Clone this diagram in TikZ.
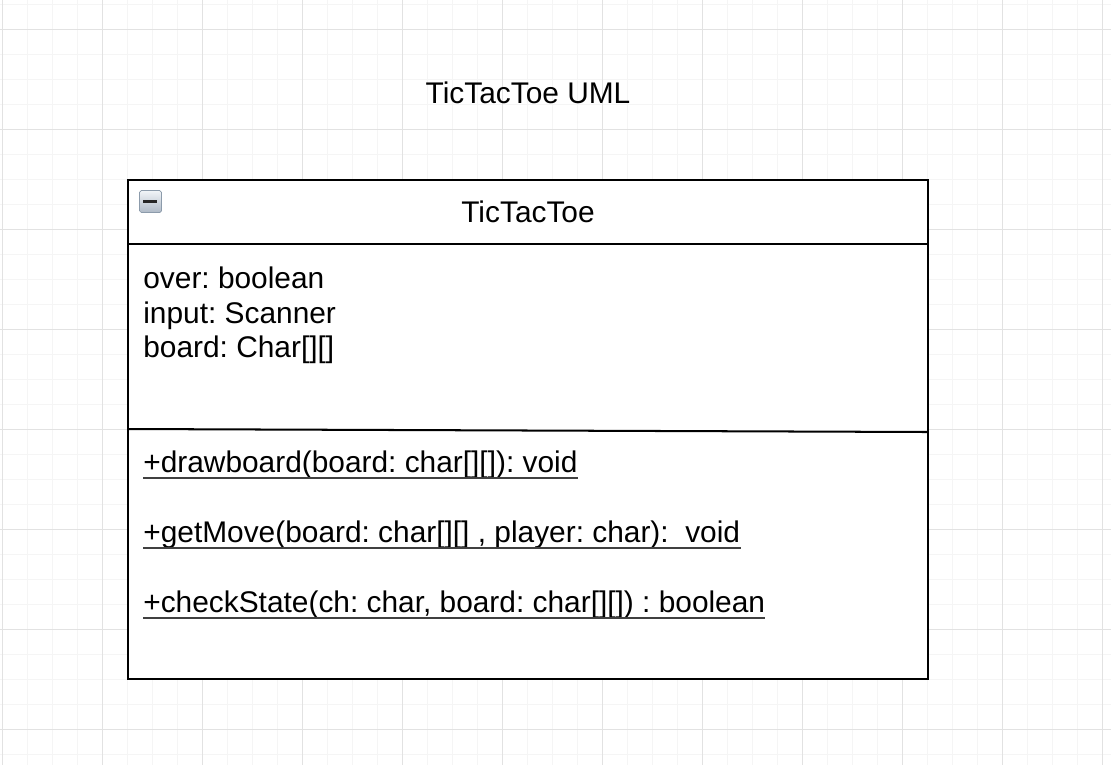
\documentclass[tikz,border=0pt]{standalone}
\usepackage{fontspec}
\setmainfont{Liberation Sans}
\frenchspacing
\definecolor{gridminor}{HTML}{F5F5F5}
\definecolor{gridmajor}{HTML}{E2E2E2}
\definecolor{iconedge}{HTML}{8C9BAB}
\definecolor{icontop}{HTML}{F2F5F8}
\definecolor{iconbot}{HTML}{AEB9C6}
\tikzset{
  minorline/.style={gridminor,line width=0.6pt},
  majorline/.style={gridmajor,line width=0.6pt},
  umlline/.style={black,line width=1.15pt},
  bigtext/.style={font=\fontsize{17}{20}\selectfont,inner sep=0pt,anchor=base},
  membertext/.style={font=\fontsize{17}{20}\selectfont,inner sep=0pt,anchor=base west},
  uline/.style={black!75,line width=1.1pt}
}
\begin{document}
\begin{tikzpicture}[x=0.02cm,y=-0.02cm]
        \useasboundingbox (0,0) rectangle (1111,765);
        \fill[white] (0,0) rectangle (1111,765);
        % grid
        \foreach \x in {2.3,27.3,...,1111} \draw[minorline] (\x,0) -- (\x,765);
        \foreach \y in {4.3,29.3,...,765} \draw[minorline] (0,\y) -- (1111,\y);
        \foreach \x in {2.3,102.3,...,1111} \draw[majorline] (\x,0) -- (\x,765);
        \foreach \y in {29.3,129.3,...,765} \draw[majorline] (0,\y) -- (1111,\y);
        % class box
        \fill[white] (128,180) rectangle (928,679);
        \draw[umlline] (128,180) rectangle (928,679);
        \draw[umlline] (128,244) -- (928,244);
        \draw[umlline] (128,429) -- (928,432);
        \shade[top color=icontop,bottom color=iconbot,draw=iconedge,rounded corners=1pt] (139.5,190.5) rectangle (161.5,212.5);
        \fill[black!85] (143,199.5) rectangle (157,202.5);
        \node[bigtext] (title) at (528,103.3) {TicTacToe UML};
        \node[bigtext] (classname) at (528,222.7) {TicTacToe};
        \node[membertext] (over) at (143,288.5) {over: boolean};
        \node[membertext] (input) at (143,323) {input: Scanner};
        \node[membertext] (board) at (143,357) {board: Char[][]};
        \node[membertext] (drawboard) at (143,472.7) {+drawboard(board: char[][]): void};
        \node[membertext] (getmove) at (143,542.7) {+getMove(board: char[][] , player: char):\ \ void};
        \node[membertext] (checkstate) at (143,612.7) {+checkState(ch: char, board: char[][]) : boolean};
        \foreach \m in {drawboard,getmove,checkstate} \draw[uline] ([yshift=-2.8pt]\m.base west) -- ([yshift=-2.8pt]\m.base east);
    \end{tikzpicture}
\end{document}
